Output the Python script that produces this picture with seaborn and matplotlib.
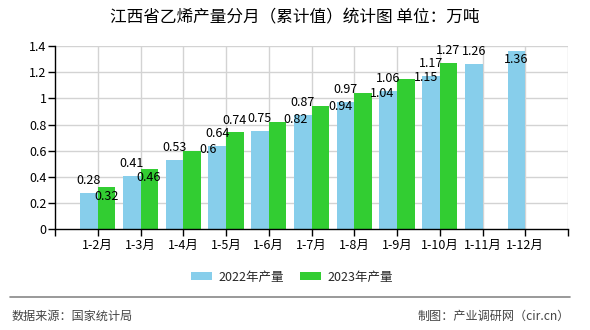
import numpy as np
import pandas as pd
import matplotlib
matplotlib.use("Agg")
import matplotlib.pyplot as plt
from matplotlib.lines import Line2D
from matplotlib.patches import Patch
import seaborn as sns

# ---- data ----
months = ["1-2月", "1-3月", "1-4月", "1-5月", "1-6月", "1-7月", "1-8月",
          "1-9月", "1-10月", "1-11月", "1-12月"]
series_names = ["2022年产量", "2023年产量"]
values_2022 = [0.28, 0.41, 0.53, 0.64, 0.75, 0.87, 0.97, 1.06, 1.17, 1.26, 1.36]
values_2023 = [0.32, 0.46, 0.6, 0.74, 0.82, 0.94, 1.04, 1.15, 1.27, None, None]
y_ticks = [0, 0.2, 0.4, 0.6, 0.8, 1.0, 1.2, 1.4]
y_tick_labels = ["0", "0.2", "0.4", "0.6", "0.8", "1", "1.2", "1.4"]
title = "江西省乙烯产量分月（累计值）统计图 单位：万吨"
source_text = "数据来源：国家统计局"
credit_text = "制图：产业调研网（cir.cn）"

# ---- style ----
colors = ["#87CEEB", "#32CD32"]
# label offsets in pixels (dx, dy) relative to top-centre of each bar
offsets_2022 = [(0, 12.5)] * 10 + [(0, -8)]
offsets_2023 = [(0, -9), (-1, -8), (16, 1), (0, 12), (18, 2), (20, 0),
                (19, 0), (20, 1), (0, 13), None, None]

rows = []
for m, v1, v2 in zip(months, values_2022, values_2023):
    rows.append({"month": m, "series": series_names[0], "value": v1})
    rows.append({"month": m, "series": series_names[1],
                 "value": np.nan if v2 is None else v2})
df = pd.DataFrame(rows)

sns.set_theme(style="white")
plt.rcParams["font.family"] = ["Noto Sans CJK SC", "DejaVu Sans"]
plt.rcParams["axes.unicode_minus"] = False

fig = plt.figure(figsize=(5.9, 3.3), dpi=100)
fig.patch.set_facecolor("white")
ax = fig.add_axes([55 / 590, (330 - 229.3) / 330, (568 - 55) / 590, (229.3 - 46) / 330])

sns.barplot(data=df, x="month", y="value", hue="series", order=months,
            hue_order=series_names, palette=colors, width=0.82, dodge=True,
            saturation=1, errorbar=None, legend=False, ax=ax, zorder=3,
            linewidth=0, edgecolor="none")

ax.set_xlim(-1, len(months))
ax.set_ylim(0, 1.4)
ax.set_xlabel("")
ax.set_ylabel("")

# grid
ax.set_yticks(y_ticks)
ax.set_yticklabels(y_tick_labels)
for yv in y_ticks[1:]:
    ax.axhline(yv, color="#d3d3d3", lw=1, zorder=1)
for xv in list(range(len(months))) + [len(months)]:
    ax.axvline(xv, color="#d3d3d3", lw=1, zorder=1)
ax.grid(False)

for s in ["top", "right"]:
    ax.spines[s].set_visible(False)
for s in ["left", "bottom"]:
    ax.spines[s].set_color("black")
    ax.spines[s].set_linewidth(1)
    ax.spines[s].set_zorder(4)

# x ticks incl. left and right edges
ax.set_xticks([-1] + list(range(len(months))) + [len(months)])
ax.set_xticklabels([""] + months + [""])
ax.tick_params(axis="x", bottom=True, length=5, width=1, color="black",
               pad=2, labelsize=9, labelcolor="black")
ax.tick_params(axis="y", left=True, length=5, width=1, color="black",
               pad=1, labelsize=9, labelcolor="black")

# value labels
bw = 0.41
for i, (v, off) in enumerate(zip(values_2022, offsets_2022)):
    ax.annotate(f"{v:g}", xy=(i - bw / 2, v), xytext=off,
                textcoords="offset pixels", ha="center", va="center",
                fontsize=9, color="black", zorder=6)
for i, (v, off) in enumerate(zip(values_2023, offsets_2023)):
    if v is None:
        continue
    ax.annotate(f"{v:g}", xy=(i + bw / 2, v), xytext=off,
                textcoords="offset pixels", ha="center", va="center",
                fontsize=9, color="black", zorder=6)

# title
fig.text(0.5, (330 - 17.5) / 330, title, ha="center", va="center",
         fontsize=12, color="black")

# legend
handles = [Patch(facecolor=c, edgecolor="none") for c in colors]
fig.legend(handles, series_names, loc="center", bbox_to_anchor=(0.495, (330 - 277) / 330),
           ncol=2, frameon=False, fontsize=9, handlelength=1.7, handleheight=0.65,
           handletextpad=0.5, columnspacing=1.3)

# footer
fig.add_artist(Line2D([10 / 590, 570 / 590], [(330 - 297) / 330] * 2,
                      color="#888888", lw=1.2, transform=fig.transFigure))
fig.text(12 / 590, 14 / 330, source_text, ha="left", va="center",
         fontsize=8.7, color="#444444")
fig.text(570 / 590, 14 / 330, credit_text, ha="right", va="center",
         fontsize=8.7, color="#444444")

fig.savefig("out.png", dpi=100, facecolor="white")
